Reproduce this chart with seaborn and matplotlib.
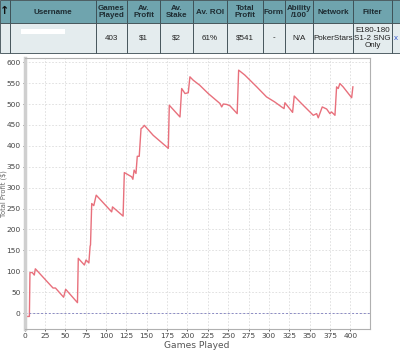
import matplotlib
matplotlib.use("Agg")
import matplotlib.pyplot as plt
import seaborn as sns
import pandas as pd
from matplotlib.patches import Rectangle

# ---- data ----
games = [0, 2.7, 6, 6.7, 9.5, 12, 13.3, 35, 38, 48, 50.5, 65, 66, 73.5, 75.5, 79,
         80.5, 81, 82.5, 85, 88, 107, 108, 121, 122.5, 131.5, 133, 134.5, 136.8,
         138.4, 140.8, 143, 145, 147, 158, 176.5, 177.7, 190.8, 192.9, 197, 201,
         203, 207, 215, 225.5, 240, 242, 244, 248, 252, 261, 262.8, 270.5, 285,
         289, 297, 307, 315.5, 318.5, 319.6, 329, 331, 340, 354.4, 358.5, 360.5,
         365.4, 370.8, 374.8, 376.8, 381, 383, 385, 387, 391, 401.5, 403]
profit = [0, -8, -8, 97, 97, 91, 106, 60, 60, 38, 57, 25, 131, 115, 127, 120,
          160, 163, 262, 257, 282, 242, 254, 232, 336, 326, 320, 342, 334,
          375, 375, 441, 444, 449, 425, 394, 497, 469, 537, 525, 527,
          565, 557, 545, 525, 501, 493, 500, 499, 496, 477, 581, 569, 541,
          533, 517, 505, 493, 489, 503, 480, 519, 501, 473, 477, 467,
          493, 488, 477, 481, 473, 541, 537, 549, 541, 515, 541]

x_ticks = list(range(0, 401, 25))
y_ticks = list(range(0, 601, 50))

header_labels = ["", "Username", "Games\nPlayed", "Av.\nProfit", "Av.\nStake", "Av. ROI",
                 "Total\nProfit", "Form", "Ability\n/100", "Network", "Filter", ""]
row_values = ["", "", "403", "$1", "$2", "61%", "$541", "-", "N/A", "PokerStars",
              "E180-180\nS1-2 SNG\nOnly", "x"]
col_edges = [0, 10, 96, 127, 160, 193, 227, 263, 285, 313, 353, 392, 400]

W, H = 400, 355
fig = plt.figure(figsize=(W / 100, H / 100), dpi=100)
fig.patch.set_facecolor("white")

# ---- table header ----
tax = fig.add_axes([0, 0, 1, 1])
tax.set_xlim(0, W)
tax.set_ylim(H, 0)
tax.axis("off")
hdr_top, hdr_bot, row_bot = 0, 23, 53
for i in range(len(col_edges) - 1):
    x0, x1 = col_edges[i], col_edges[i + 1]
    tax.add_patch(Rectangle((x0, hdr_top), x1 - x0, hdr_bot - hdr_top,
                            facecolor="#6fa4ae", edgecolor="#3a4a50", lw=0.6))
    tax.add_patch(Rectangle((x0, hdr_bot), x1 - x0, row_bot - hdr_bot,
                            facecolor="#e4ecee", edgecolor="#3a4a50", lw=0.6))
    cx = (x0 + x1) / 2
    tax.text(cx, (hdr_top + hdr_bot) / 2 + 0.5, header_labels[i], ha="center", va="center",
             fontsize=5.8, fontweight="bold", color="#1e2c32", linespacing=1.0,
             family="Liberation Sans")
    col = "#3355cc" if row_values[i] == "x" else "#222222"
    tax.text(cx, (hdr_bot + row_bot) / 2, row_values[i], ha="center", va="center",
             fontsize=5.8, color=col, linespacing=1.05, family="Liberation Sans")
tax.text(5, 11.5, "\u2191", ha="center", va="center", fontsize=8, fontweight="bold",
         color="#111111")
tax.add_patch(Rectangle((21, 29), 44, 5, facecolor="white", edgecolor="none"))

# ---- chart ----
ax = fig.add_axes([24.5 / W, 1 - 329 / H, (370 - 24.5) / W, (329 - 58) / H])
df = pd.DataFrame({"Games Played": games, "Profit": profit})
sns.lineplot(data=df, x="Games Played", y="Profit", ax=ax, color="#e8707c",
             lw=1.0, estimator=None, sort=False)
ax.axhline(0, color="#8a8ac4", lw=0.7, ls=(0, (2, 2)))
ax.set_xlim(0, 424)
ax.set_ylim(-38, 610)
ax.set_xticks(x_ticks)
ax.set_yticks(y_ticks)
ax.grid(True, color="#dcdcdc", lw=0.6, ls=(0, (2, 2)))
ax.set_axisbelow(True)
ax.tick_params(labelsize=5.4, colors="#444444", length=1.5, width=0.6, pad=1.2)
for s in ["top", "right", "bottom"]:
    ax.spines[s].set_color("#b0b0b0")
    ax.spines[s].set_linewidth(0.8)
ax.spines["left"].set_color("#cfcfcf")
ax.spines["left"].set_linewidth(2.5)
ax.set_xlabel("Games Played", fontsize=6.6, color="#555555", labelpad=1.5)
ax.set_ylabel("")
fig.text(0.2 / W, (1 - 329 / H + 1 - 58 / H) / 2, "Total Profit ($)", rotation=90,
         ha="left", va="center", fontsize=4.8, color="#666666")

fig.savefig("out.png", dpi=100)
